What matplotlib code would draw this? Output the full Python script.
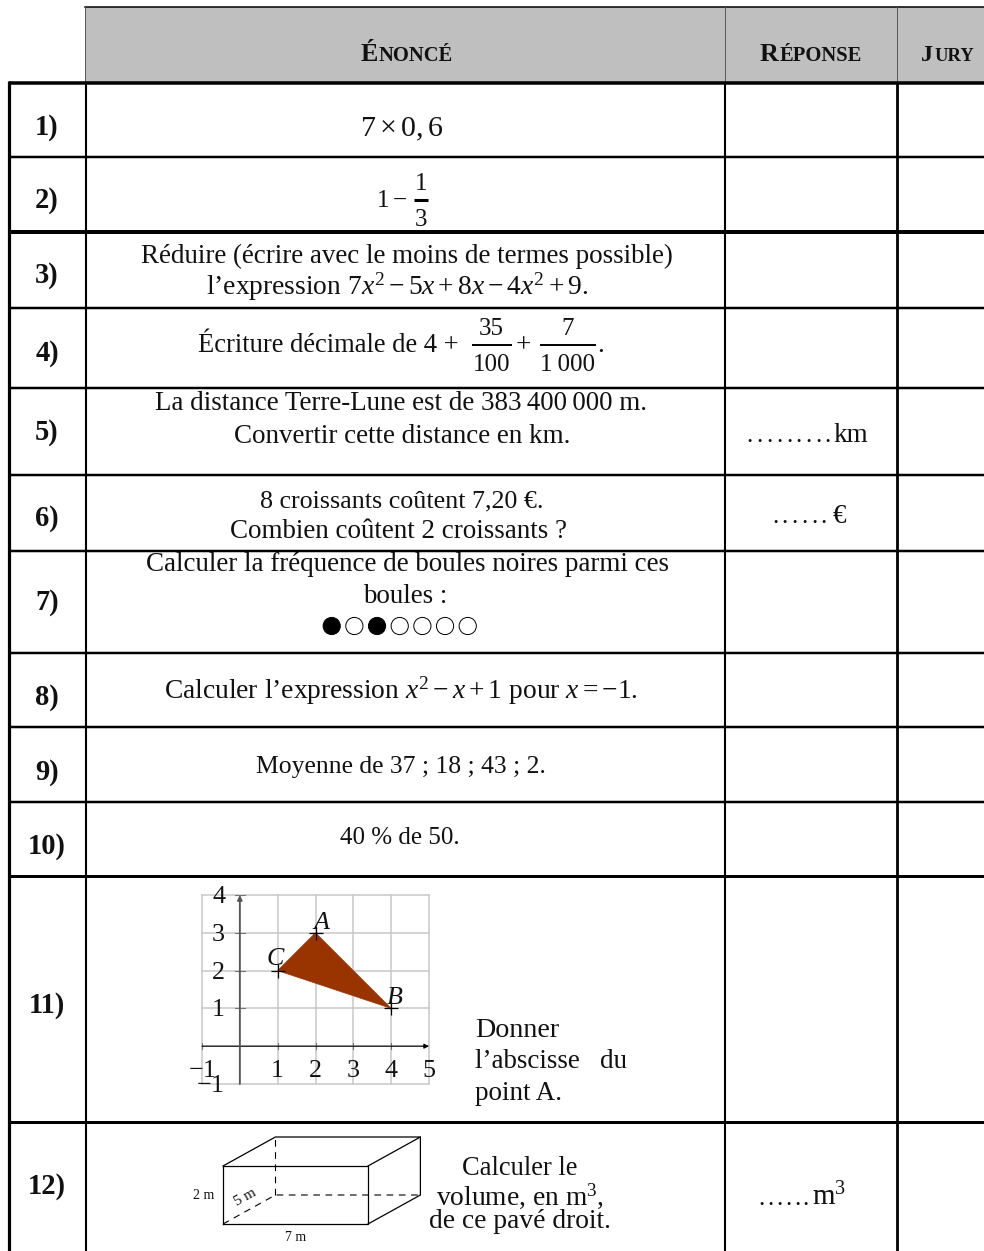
import matplotlib
matplotlib.use("Agg")
import matplotlib.pyplot as plt
from matplotlib.patches import Circle, Polygon, Rectangle

plt.rcParams['font.family'] = ['Liberation Serif', 'DejaVu Serif']
plt.rcParams['mathtext.fontset'] = 'custom'
plt.rcParams['mathtext.rm'] = 'Liberation Serif'
plt.rcParams['mathtext.it'] = 'Liberation Serif:italic'
plt.rcParams['mathtext.bf'] = 'Liberation Serif:bold'

W, H = 984, 1251

# table data
row_labels = ['1)', '2)', '3)', '4)', '5)', '6)', '7)', '8)', '9)', '10)', '11)', '12)']
label_base = [135, 208, 283, 361, 440, 526, 610, 705, 780, 854, 1013, 1194]
h_lines = [82.5, 157, 231.5, 308, 388, 475, 551, 653, 727, 802, 876, 1122]
h_widths = [3.5, 2.5, 4, 2.5, 2.5, 2.5, 2.5, 2.5, 2.5, 2.5, 3, 3]
header_parts = [('É', 'NONCÉ', 406, 26, 20.5), ('R', 'ÉPONSE', 810, 26, 20.5), ('J', 'URY', 947, 24, 18.5)]

# graph in question 11
tri_x = [2, 4, 1]
tri_y = [3, 1, 2]
tri_names = ['A', 'B', 'C']
x_ticks = [-1, 1, 2, 3, 4, 5]
y_ticks = [-1, 1, 2, 3, 4]

# balls in question 7
balls = [1, 0, 1, 0, 0, 0, 0]

# box in question 12 (length, height, depth)
box_l, box_h, box_d = 7, 2, 5

fig = plt.figure(figsize=(W / 100, H / 100), dpi=100)
ax = fig.add_axes([0, 0, 1, 1])
ax.set_xlim(0, W)
ax.set_ylim(H, 0)
ax.axis('off')


def px(p):
    return p * 72 / 100


def txt(x, y, s, size=27, ha='center', **kw):
    return ax.text(x, y, s, fontsize=px(size), ha=ha, va='baseline', color='#111111', **kw)


def frac(x, num, den, bar_y, half, up=10, down=26, size=25, lw=1.4):
    ax.plot([x - half, x + half], [bar_y, bar_y], color='black', lw=lw, solid_capstyle='butt')
    txt(x, bar_y - up, num, size=size)
    txt(x, bar_y + down, den, size=size)


def dots(x0, x1, n, y):
    for i in range(n):
        txt(x0 + i * (x1 - x0) / (n - 1), y, '.', size=25)


# header
ax.add_patch(Rectangle((85, 7), W - 85, 75, fc='#bfbfbf', ec='none'))
ax.plot([85, W], [7, 7], color='black', lw=1.1)
for x in [85, 725, 897]:
    ax.plot([x, x], [7, 82], color='#555555', lw=0.7)

rend = fig.canvas.get_renderer()
for big, small, cx, s1, s2 in header_parts:
    t1 = txt(0, 61, big, size=s1, ha='left', fontweight='bold')
    t2 = txt(0, 61, small, size=s2, ha='left', fontweight='bold')
    w1 = t1.get_window_extent(rend).width
    w2 = t2.get_window_extent(rend).width
    left = cx - (w1 + w2) / 2
    t1.set_x(left)
    t2.set_x(left + w1 + 1)

# grid of the table
for y, lw in zip(h_lines, h_widths):
    ax.plot([9, W], [y, y], color='black', lw=lw * 0.72, solid_capstyle='butt')
ax.plot([9, 9], [81, H], color='black', lw=2.3, solid_capstyle='butt')
for x, lw in zip([86, 725, 897], [1.5, 1.5, 2.0]):
    ax.plot([x, x], [82, H], color='black', lw=lw, solid_capstyle='butt')

for lab, b in zip(row_labels, label_base):
    txt(47, b, lab, size=28.5, fontweight='bold')

# question texts
txt(402, 136, r'$7\times 0,6$', size=30)
txt(391, 207, r'$1-$', size=25)
frac(421, '1', '3', 200, 7, up=10, down=26, size=25, lw=2.2)

txt(407, 263, 'Réduire (écrire avec le moins de termes possible)')
txt(397, 295, r"l’expression $7x^2-5x+8x-4x^2+9.$", size=27.5)

txt(198, 352, 'Écriture décimale de 4 +', ha='left', size=26.5)
frac(491.5, '35', '100', 345, 20)
txt(523, 352, '+')
frac(568, '7', '1\u2009000', 345, 28)
txt(601, 352, '.')

txt(401, 410, 'La distance Terre-Lune est de 383\u2009400\u2009000 m.')
txt(402, 443, 'Convertir cette distance en km.')
dots(750, 828, 9, 442)
txt(833, 442, 'km', ha='left', size=27)

txt(402, 507, '8 croissants coûtent 7,20 €.', size=26)
txt(398, 538, 'Combien coûtent 2 croissants ?')
dots(775, 824, 6, 523)
txt(839, 523, '€', size=27)

txt(408, 571, 'Calculer la fréquence de boules noires parmi ces')
txt(405, 603, 'boules :')
for i, b in enumerate(balls):
    ax.add_patch(Circle((331.7 + i * 22.67, 626), 8.6,
                        fc='black' if b else 'white', ec='black', lw=0.7))

txt(401, 699, r"Calculer l’expression $x^2-x+1$ pour $x=-1.$", size=27.5)
txt(401, 773, 'Moyenne de 37 ; 18 ; 43 ; 2.', size=25.6)
txt(400, 844, '40 % de 50.', size=25)

txt(475, 1037, 'Donner', ha='left', size=28)
txt(475, 1068, 'l’abscisse   du', ha='left', size=27)
txt(475, 1100, 'point A.', ha='left', size=27)

txt(520, 1175, 'Calculer le', size=26.5)
txt(520, 1205, 'volume, en m$^3$,', size=27.5)
txt(520, 1228, 'de ce pavé droit.', size=27.5)
dots(762, 806, 6, 1205)
txt(812, 1205, 'm$^3$', ha='left', size=29)

# graph of question 11, placed on its pixel box
gx = fig.add_axes([202 / W, 1 - 1084 / H, 227 / W, 189 / H])
gx.set_xlim(-1, 5)
gx.set_ylim(-1, 4)
gx.axis('off')
for v in range(-1, 6):
    gx.plot([v, v], [-1, 4], color='#c8c8c8', lw=1.1, clip_on=False)
for v in range(-1, 5):
    gx.plot([-1, 5], [v, v], color='#c8c8c8', lw=1.1, clip_on=False)
gx.annotate('', xy=(5, 0), xytext=(-1, 0),
            arrowprops=dict(arrowstyle='-|>', color='black', lw=0.8, shrinkA=0, shrinkB=0, mutation_scale=7))
gx.annotate('', xy=(0, 4), xytext=(0, -1),
            arrowprops=dict(arrowstyle='-|>', color='#555555', lw=1.3, shrinkA=0, shrinkB=0, mutation_scale=7))
gx.add_patch(Polygon(list(zip(tri_x, tri_y)), fc='#993300', ec='#993300', lw=0.5, zorder=3))
gx.plot(tri_x, tri_y, ls='none', marker='+', ms=10.5, mew=0.9, color='black', zorder=4, clip_on=False)
for v in x_ticks:
    gx.plot([v, v], [-0.08, 0.08], color='#777777', lw=0.8)
    lab = '$-1$' if v == -1 else str(v)
    gx.text(v, -0.82, lab, fontsize=px(26), ha='center', va='baseline', color='#111111')
for v in y_ticks:
    gx.plot([-0.13, 0.13], [v, v], color='#777777', lw=0.8)
    lab = '$-1$' if v == -1 else str(v)
    gx.text(-0.78 if v == -1 else -0.56, v - 0.21, lab, fontsize=px(26), ha='center', va='baseline', color='#111111')
for x, y, name, dx, dy in zip(tri_x, tri_y, tri_names, [0.16, 0.1, -0.07], [0.09, 0.11, 0.14]):
    gx.text(x + dx, y + dy, name, fontsize=px(26), style='italic', ha='center', va='baseline', color='#111111', zorder=5)

# box of question 12, placed on its pixel box
bx = fig.add_axes([223 / W, 1 - 1224 / H, 197 / W, 87 / H])
bx.set_xlim(0, 197)
bx.set_ylim(0, 87)
bx.axis('off')
sx = 145 / box_l
sy = 58 / box_h
ox, oy = 52.4 / box_d, 29 / box_d
xa, ya = box_l * sx, box_h * sy
xd, yd = box_d * ox, box_d * oy
solid = [([0, xa, xa, 0, 0], [0, 0, ya, ya, 0]),
         ([0, xd, xd + xa, xa], [ya, ya + yd, ya + yd, ya]),
         ([xd + xa, xd + xa, xa], [ya + yd, yd, 0])]
dashed = [([0, xd, xd + xa], [0, yd, yd]), ([xd, xd], [yd, ya + yd])]
for xs, ys in solid:
    bx.plot(xs, ys, color='black', lw=0.9, clip_on=False, solid_joinstyle='miter')
for xs, ys in dashed:
    bx.plot(xs, ys, color='black', lw=0.8, ls=(0, (6, 5)), clip_on=False)
txt(204, 1199, '2 m', size=14)
txt(296, 1241, '7 m', size=14)
ax.text(245, 1197, '5 m', fontsize=px(15), rotation=29, ha='center', va='center', color='#111111')

fig.savefig('out.png', dpi=100)
